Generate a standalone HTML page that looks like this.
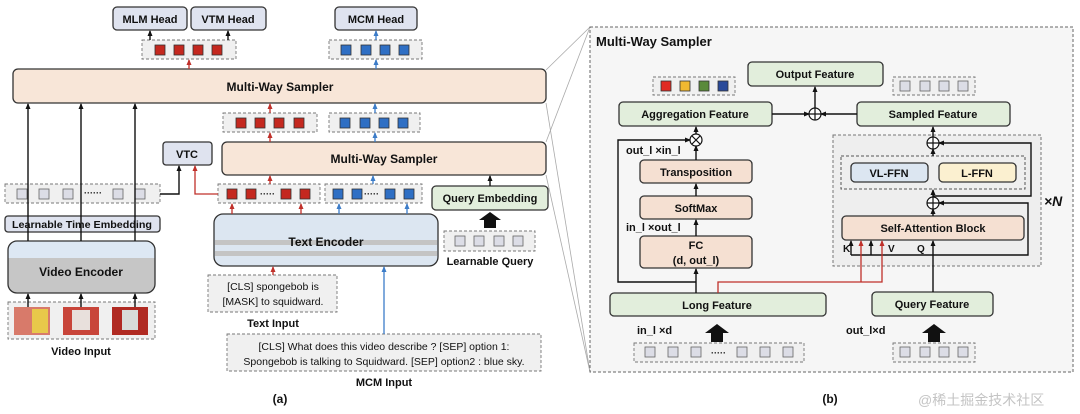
<!DOCTYPE html>
<html><head><meta charset="utf-8"><style>
html,body{margin:0;padding:0;background:#fff;}
svg{display:block;font-family:"Liberation Sans",sans-serif;}
text{font-weight:bold;fill:#111;}
.n{font-weight:normal;}
</style></head><body>
<svg width="1080" height="414" viewBox="0 0 1080 414" xmlns="http://www.w3.org/2000/svg">
<defs>
<marker id="ak" markerWidth="6" markerHeight="6" refX="5" refY="3" orient="auto" markerUnits="userSpaceOnUse"><path d="M0,0.5L6,3L0,5.5z" fill="#111"/></marker>
<marker id="ar" markerWidth="6" markerHeight="6" refX="5" refY="3" orient="auto" markerUnits="userSpaceOnUse"><path d="M0,0.5L6,3L0,5.5z" fill="#c0302a"/></marker>
<marker id="ab" markerWidth="6" markerHeight="6" refX="5" refY="3" orient="auto" markerUnits="userSpaceOnUse"><path d="M0,0.5L6,3L0,5.5z" fill="#3c7cc8"/></marker>
<linearGradient id="ve" x1="0" y1="0" x2="0" y2="1"><stop offset="0" stop-color="#dde8f4"/><stop offset="0.33" stop-color="#dde8f4"/><stop offset="0.33" stop-color="#c6c6c6"/><stop offset="1" stop-color="#c6c6c6"/></linearGradient>
</defs>
<g stroke="#333" stroke-width="1.3">
<g stroke="#aaa" stroke-width="0.8" fill="none">
<line x1="546" y1="70" x2="590" y2="27"/><line x1="546" y1="103" x2="590" y2="372"/>
<line x1="546" y1="142" x2="590" y2="27"/><line x1="546" y1="175" x2="590" y2="372"/>
</g>
<rect x="113" y="7" width="74" height="23" rx="4" fill="#dfe3ef"/>
<rect x="191" y="7" width="75" height="23" rx="4" fill="#dfe3ef"/>
<rect x="335" y="7" width="82" height="23" rx="4" fill="#dfe3ef"/>
<rect x="142" y="40" width="94" height="19" fill="#f0f0f0" stroke="#777" stroke-dasharray="3,2" stroke-width="0.9"/>
<rect x="329" y="40" width="93" height="19" fill="#f0f0f0" stroke="#777" stroke-dasharray="3,2" stroke-width="0.9"/>
<rect x="223" y="113" width="94" height="19" fill="#f0f0f0" stroke="#777" stroke-dasharray="3,2" stroke-width="0.9"/>
<rect x="329" y="113" width="91" height="19" fill="#f0f0f0" stroke="#777" stroke-dasharray="3,2" stroke-width="0.9"/>
<rect x="5" y="184" width="155" height="19" fill="#f0f0f0" stroke="#777" stroke-dasharray="3,2" stroke-width="0.9"/>
<rect x="218" y="184" width="102" height="19" fill="#f0f0f0" stroke="#777" stroke-dasharray="3,2" stroke-width="0.9"/>
<rect x="325" y="184" width="97" height="19" fill="#f0f0f0" stroke="#777" stroke-dasharray="3,2" stroke-width="0.9"/>
<rect x="444" y="231" width="91" height="20" fill="#f0f0f0" stroke="#777" stroke-dasharray="3,2" stroke-width="0.9"/>
<rect x="8" y="302" width="147" height="37" fill="#f0f0f0" stroke="#777" stroke-dasharray="3,2" stroke-width="0.9"/>
<rect x="208" y="275" width="129" height="37" fill="#f0f0f0" stroke="#777" stroke-dasharray="3,2" stroke-width="0.9"/>
<rect x="227" y="334" width="314" height="37" fill="#f0f0f0" stroke="#777" stroke-dasharray="3,2" stroke-width="0.9"/>
<rect x="13" y="69" width="533" height="34" rx="5" fill="#f8e6d8"/>
<rect x="222" y="142" width="324" height="33" rx="5" fill="#f8e6d8"/>
<rect x="163" y="142" width="49" height="23" rx="3" fill="#dfe3ef"/>
<rect x="432" y="186" width="116" height="24" rx="4" fill="#e2eedc"/>
<rect x="5" y="216" width="155" height="16" rx="3" fill="#dfe3ef"/>
<rect x="8" y="241" width="147" height="52" rx="9" fill="url(#ve)"/>
<rect x="214" y="214" width="224" height="52" rx="9" fill="#dce6f1"/>
</g>
<rect x="215" y="240" width="222" height="5" fill="#c4c4c4"/>
<rect x="215" y="251" width="222" height="5" fill="#c4c4c4"/>
<g stroke="#333" stroke-width="0.8">
<g fill="#c4281f">
<rect x="155" y="45" width="10" height="10"/><rect x="174" y="45" width="10" height="10"/><rect x="193" y="45" width="10" height="10"/><rect x="212" y="45" width="10" height="10"/>
<rect x="236" y="118" width="10" height="10"/><rect x="255" y="118" width="10" height="10"/><rect x="274" y="118" width="10" height="10"/><rect x="294" y="118" width="10" height="10"/>
<rect x="227" y="189" width="10" height="10"/><rect x="246" y="189" width="10" height="10"/><rect x="281" y="189" width="10" height="10"/><rect x="300" y="189" width="10" height="10"/>
</g>
<g fill="#2f6fc4">
<rect x="341" y="45" width="10" height="10"/><rect x="361" y="45" width="10" height="10"/><rect x="380" y="45" width="10" height="10"/><rect x="399" y="45" width="10" height="10"/>
<rect x="340" y="118" width="10" height="10"/><rect x="360" y="118" width="10" height="10"/><rect x="379" y="118" width="10" height="10"/><rect x="398" y="118" width="10" height="10"/>
<rect x="333" y="189" width="10" height="10"/><rect x="352" y="189" width="10" height="10"/><rect x="385" y="189" width="10" height="10"/><rect x="404" y="189" width="10" height="10"/>
</g>
<g fill="#dcdde6" stroke="#666">
<rect x="17" y="189" width="10" height="10"/><rect x="39" y="189" width="10" height="10"/><rect x="63" y="189" width="10" height="10"/><rect x="113" y="189" width="10" height="10"/><rect x="135" y="189" width="10" height="10"/>
<rect x="455" y="236" width="10" height="10"/><rect x="474" y="236" width="10" height="10"/><rect x="494" y="236" width="10" height="10"/><rect x="513" y="236" width="10" height="10"/>
</g>
</g>
<g font-size="9" fill="#333"><text x="84" y="196">······</text><text x="260" y="197">·····</text><text x="364" y="197">·····</text></g>
<rect x="14" y="307" width="36" height="28" fill="#d87a6a"/><rect x="32" y="309" width="16" height="24" fill="#e8c84a"/>
<rect x="63" y="307" width="36" height="28" fill="#c8453a"/><rect x="72" y="310" width="18" height="20" fill="#e8e0dc"/>
<rect x="112" y="307" width="36" height="28" fill="#b02a22"/><rect x="122" y="310" width="16" height="20" fill="#d8dcd8"/>
<g stroke="#111" stroke-width="1.4" fill="none" marker-end="url(#ak)">
<line x1="28" y1="241" x2="28" y2="104"/><line x1="81" y1="241" x2="81" y2="104"/><line x1="135" y1="241" x2="135" y2="104"/>
<line x1="28" y1="307" x2="28" y2="294"/><line x1="81" y1="307" x2="81" y2="294"/><line x1="135" y1="307" x2="135" y2="294"/>
<polyline points="160,194 179,194 179,166"/>
<line x1="150" y1="40" x2="150" y2="31"/><line x1="228" y1="40" x2="228" y2="31"/>
<line x1="490" y1="186" x2="490" y2="176"/>
</g>
<polygon points="484,228 496,228 496,220 501,220 490,212 479,220 484,220" fill="#111"/>
<g stroke="#c0302a" stroke-width="1.3" fill="none" marker-end="url(#ar)">
<polyline points="218,194 195,194 195,166"/>
<line x1="189" y1="69" x2="189" y2="60"/><line x1="270" y1="113" x2="270" y2="104"/><line x1="270" y1="142" x2="270" y2="133"/><line x1="270" y1="184" x2="270" y2="176"/>
<line x1="232" y1="214" x2="232" y2="204"/><line x1="301" y1="214" x2="301" y2="204"/><line x1="273" y1="275" x2="273" y2="267"/>
</g>
<g stroke="#3c7cc8" stroke-width="1.3" fill="none" marker-end="url(#ab)">
<line x1="376" y1="40" x2="376" y2="31"/><line x1="376" y1="69" x2="376" y2="60"/><line x1="375" y1="113" x2="375" y2="104"/><line x1="375" y1="142" x2="375" y2="133"/><line x1="373" y1="184" x2="373" y2="176"/>
<line x1="339" y1="214" x2="339" y2="204"/><line x1="407" y1="214" x2="407" y2="204"/><line x1="384" y1="334" x2="384" y2="267"/>
</g>
<g font-size="11" text-anchor="middle">
<text x="150" y="23">MLM Head</text><text x="228" y="23">VTM Head</text><text x="376" y="23">MCM Head</text>
<text x="280" y="91" font-size="12">Multi-Way Sampler</text><text x="384" y="163" font-size="12">Multi-Way Sampler</text>
<text x="187" y="158">VTC</text><text x="490" y="202">Query Embedding</text>
<text x="82" y="228" font-size="10" textLength="140" lengthAdjust="spacingAndGlyphs">Learnable Time Embedding</text>
<text x="81" y="276" font-size="12">Video Encoder</text><text x="326" y="246" font-size="12">Text Encoder</text>
<text x="490" y="265">Learnable Query</text><text x="81" y="355">Video Input</text>
<text x="273" y="327">Text Input</text><text x="384" y="386">MCM Input</text>
<text x="280" y="403" font-size="12">(a)</text><text x="830" y="403" font-size="12">(b)</text>
</g>
<g font-size="10.5" text-anchor="middle" class="n">
<text class="n" x="273" y="290">[CLS] spongebob is</text><text class="n" x="273" y="305">[MASK] to squidward.</text>
<text class="n" x="384" y="350">[CLS] What does this video describe ? [SEP] option 1:</text>
<text class="n" x="384" y="365">Spongebob is  talking to Squidward. [SEP] option2 : blue sky.</text>
</g>
<g stroke-width="1.3" stroke="#333">
<rect x="590" y="27" width="483" height="345" fill="#f6f6f6" stroke="#666" stroke-dasharray="3,2" stroke-width="1"/>
<rect x="833" y="135" width="208" height="131" fill="#eeeeee" stroke="#777" stroke-dasharray="3,2" stroke-width="1"/>
<rect x="841" y="156" width="184" height="33" fill="#efefef" stroke="#555" stroke-dasharray="3,2" stroke-width="1"/>
<rect x="653" y="77" width="82" height="18" fill="#f0f0f0" stroke="#777" stroke-dasharray="3,2" stroke-width="0.9"/>
<rect x="893" y="77" width="82" height="18" fill="#f0f0f0" stroke="#777" stroke-dasharray="3,2" stroke-width="0.9"/>
<rect x="634" y="343" width="170" height="19" fill="#f0f0f0" stroke="#777" stroke-dasharray="3,2" stroke-width="0.9"/>
<rect x="893" y="343" width="82" height="19" fill="#f0f0f0" stroke="#777" stroke-dasharray="3,2" stroke-width="0.9"/>
<rect x="748" y="62" width="135" height="24" rx="4" fill="#e2eedc"/>
<rect x="619" y="102" width="153" height="24" rx="4" fill="#e2eedc"/>
<rect x="857" y="102" width="153" height="24" rx="4" fill="#e2eedc"/>
<rect x="610" y="293" width="216" height="23" rx="4" fill="#e2eedc"/>
<rect x="872" y="292" width="121" height="24" rx="4" fill="#e2eedc"/>
<rect x="640" y="160" width="112" height="23" rx="4" fill="#f5e0d2"/>
<rect x="640" y="196" width="112" height="23" rx="4" fill="#f5e0d2"/>
<rect x="640" y="236" width="112" height="32" rx="4" fill="#f5e0d2"/>
<rect x="842" y="216" width="182" height="24" rx="4" fill="#f5e0d2"/>
<rect x="851" y="163" width="77" height="19" rx="4" fill="#dce6f1"/>
<rect x="939" y="163" width="77" height="19" rx="4" fill="#fbf0d0"/>
</g>
<g stroke="#333" stroke-width="0.8">
<rect x="661" y="81" width="10" height="10" fill="#e02a22"/><rect x="680" y="81" width="10" height="10" fill="#f0b830"/><rect x="699" y="81" width="10" height="10" fill="#5a8a3a"/><rect x="718" y="81" width="10" height="10" fill="#2a4a9a"/>
<g fill="#dcdde6" stroke="#666">
<rect x="900" y="81" width="10" height="10"/><rect x="920" y="81" width="10" height="10"/><rect x="939" y="81" width="10" height="10"/><rect x="958" y="81" width="10" height="10"/>
<rect x="900" y="347" width="10" height="10"/><rect x="920" y="347" width="10" height="10"/><rect x="939" y="347" width="10" height="10"/><rect x="958" y="347" width="10" height="10"/>
<rect x="645" y="347" width="10" height="10"/><rect x="668" y="347" width="10" height="10"/><rect x="691" y="347" width="10" height="10"/><rect x="737" y="347" width="10" height="10"/><rect x="760" y="347" width="10" height="10"/><rect x="783" y="347" width="10" height="10"/>
</g></g>
<text x="711" y="356" font-size="9">·····</text>
<g stroke="#111" stroke-width="1.4" fill="none" marker-end="url(#ak)">
<line x1="772" y1="114" x2="809" y2="114"/><line x1="857" y1="114" x2="821" y2="114"/><line x1="815" y1="108" x2="815" y2="87"/>
<line x1="696" y1="293" x2="696" y2="269"/><line x1="696" y1="236" x2="696" y2="220"/><line x1="696" y1="196" x2="696" y2="184"/><line x1="696" y1="160" x2="696" y2="146"/><line x1="696" y1="134" x2="696" y2="127"/>
<polyline points="696,282 618,282 618,140 690,140"/>
<line x1="933" y1="292" x2="933" y2="241"/><line x1="933" y1="216" x2="933" y2="209"/><line x1="933" y1="197" x2="933" y2="190"/><line x1="933" y1="156" x2="933" y2="149"/><line x1="933" y1="137" x2="933" y2="127"/>
<polyline points="933,196 1031,196 1031,143 939,143"/>
<polyline points="851,255 1028,255 1028,203 939,203"/>
<line x1="851" y1="255" x2="851" y2="241"/><line x1="871" y1="255" x2="871" y2="241"/>
</g>
<g stroke="#c0302a" stroke-width="1.3" fill="none" marker-end="url(#ar)">
<polyline points="718,293 718,282 882,282 882,241"/><polyline points="861,282 861,241"/>
</g>
<g stroke="#111" stroke-width="1.2" fill="#fff">
<circle cx="815" cy="114" r="6"/><circle cx="696" cy="140" r="6"/><circle cx="933" cy="143" r="6"/><circle cx="933" cy="203" r="6"/>
</g>
<g stroke="#111" stroke-width="1.2">
<path d="M809,114h12M815,108v12M927,143h12M933,137v12M927,203h12M933,197v12M692,136l8,8M700,136l-8,8"/>
</g>
<polygon points="711,342 723,342 723,333 729,333 717,324 705,333 711,333" fill="#111"/>
<polygon points="928,342 940,342 940,333 946,333 934,324 922,333 928,333" fill="#111"/>
<g font-size="11" text-anchor="middle">
<text x="815" y="78">Output Feature</text><text x="695" y="118">Aggregation Feature</text><text x="933" y="118">Sampled Feature</text>
<text x="696" y="176">Transposition</text><text x="696" y="212">SoftMax</text><text x="696" y="249">FC</text><text x="696" y="264">(d, out_l)</text>
<text x="717" y="309">Long Feature</text><text x="932" y="308">Query Feature</text>
<text x="889" y="177">VL-FFN</text><text x="977" y="177">L-FFN</text><text x="933" y="232">Self-Attention Block</text>
</g>
<g font-size="11">
<text x="596" y="46" font-size="13">Multi-Way Sampler</text>
<text x="626" y="154">out_l ×in_l</text><text x="626" y="231">in_l ×out_l</text>
<text x="637" y="334">in_l ×d</text><text x="846" y="334">out_l×d</text>
<text x="843" y="252" font-size="10">K</text><text x="888" y="252" font-size="10">V</text><text x="917" y="252" font-size="10">Q</text>
<text x="1044" y="206" font-size="14" font-style="italic">×N</text>
</g>
<text x="918" y="405" font-size="14" style="font-weight:normal;fill:#c4c4c4;font-family:'Liberation Sans','Noto Sans CJK SC',sans-serif">@稀土掘金技术社区</text>
</svg>
</body></html>
